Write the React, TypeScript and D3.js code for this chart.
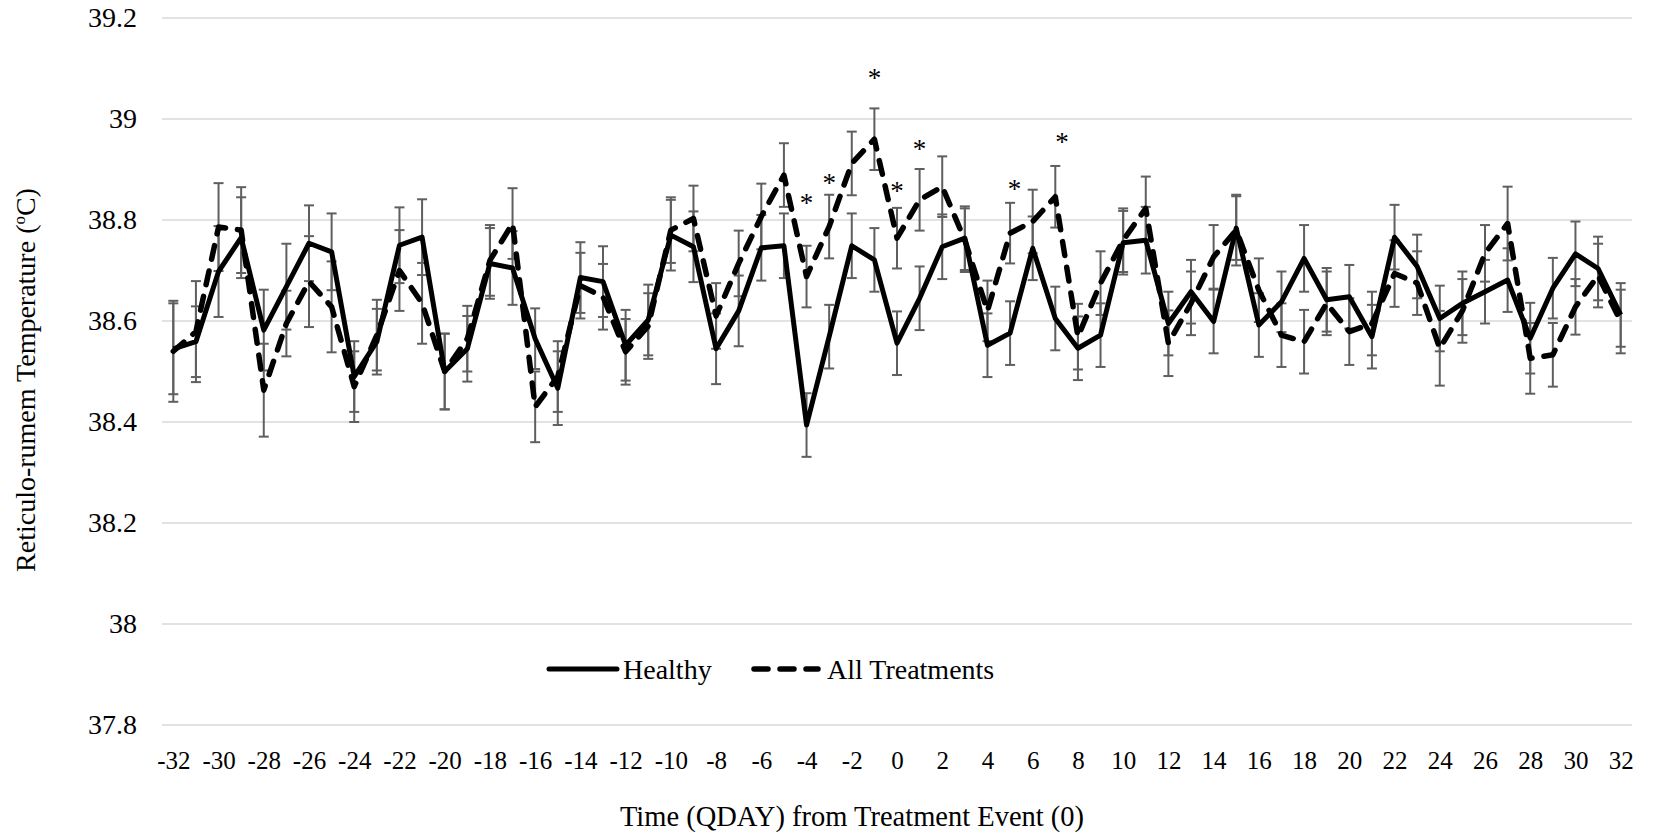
import React, { useEffect, useRef } from "react";
import * as d3 from "d3";

// QDAY relative to the treatment event
const qday = [
  -32, -31, -30, -29, -28, -27, -26, -25, -24, -23, -22, -21, -20, -19, -18, -17,
  -16, -15, -14, -13, -12, -11, -10, -9, -8, -7, -6, -5, -4, -3, -2, -1,
  0, 1, 2, 3, 4, 5, 6, 7, 8, 9, 10, 11, 12, 13, 14, 15,
  16, 17, 18, 19, 20, 21, 22, 23, 24, 25, 26, 27, 28, 29, 30, 31, 32,
];

const healthy = [
  38.545, 38.559, 38.698, 38.765, 38.582, 38.668, 38.754, 38.737, 38.49, 38.559, 38.75, 38.766, 38.5, 38.545, 38.714, 38.705,
  38.565, 38.467, 38.686, 38.678, 38.552, 38.602, 38.77, 38.747, 38.545, 38.62, 38.745, 38.749, 38.394, 38.569, 38.749, 38.721,
  38.556, 38.645, 38.747, 38.764, 38.552, 38.576, 38.744, 38.605, 38.546, 38.572, 38.755, 38.76, 38.595, 38.658, 38.599, 38.784,
  38.592, 38.638, 38.724, 38.642, 38.648, 38.569, 38.766, 38.708, 38.605, 38.635, 38.658, 38.681, 38.566, 38.665, 38.733, 38.704, 38.612,
];
const healthyErr = [
  0.09, 0.07, 0.09, 0.08, 0.08, 0.085, 0.075, 0.076, 0.07, 0.065, 0.075, 0.075, 0.075, 0.065, 0.07, 0.073,
  0.06, 0.073, 0.07, 0.07, 0.07, 0.07, 0.07, 0.07, 0.07, 0.07, 0.065, 0.064, 0.063, 0.063, 0.064, 0.063,
  0.063, 0.063, 0.064, 0.063, 0.063, 0.063, 0.063, 0.063, 0.063, 0.063, 0.063, 0.066, 0.063, 0.063, 0.063, 0.063,
  0.063, 0.06, 0.066, 0.063, 0.063, 0.063, 0.064, 0.063, 0.065, 0.063, 0.063, 0.063, 0.07, 0.06, 0.064, 0.063, 0.063,
];

const treated = [
  38.54, 38.579, 38.786, 38.78, 38.463, 38.595, 38.678, 38.628, 38.47, 38.572, 38.7, 38.635, 38.5, 38.565, 38.72, 38.793,
  38.43, 38.49, 38.67, 38.648, 38.539, 38.59, 38.78, 38.803, 38.61, 38.714, 38.807, 38.889, 38.688, 38.787, 38.912, 38.96,
  38.764, 38.84, 38.866, 38.76, 38.62, 38.774, 38.797, 38.846, 38.569, 38.675, 38.76, 38.823, 38.556, 38.635, 38.727, 38.78,
  38.661, 38.572, 38.559, 38.635, 38.579, 38.595, 38.694, 38.675, 38.546, 38.62, 38.734, 38.793, 38.526, 38.533, 38.628, 38.69, 38.599,
];
const treatedErr = [
  0.1, 0.1, 0.087, 0.085, 0.092, 0.065, 0.09, 0.09, 0.07, 0.07, 0.08, 0.08, 0.075, 0.065, 0.07, 0.07,
  0.07, 0.07, 0.065, 0.065, 0.065, 0.065, 0.065, 0.065, 0.065, 0.065, 0.065, 0.063, 0.061, 0.063, 0.063, 0.061,
  0.06, 0.061, 0.06, 0.063, 0.06, 0.06, 0.063, 0.061, 0.065, 0.063, 0.063, 0.063, 0.065, 0.063, 0.063, 0.07,
  0.063, 0.063, 0.063, 0.063, 0.066, 0.063, 0.066, 0.063, 0.074, 0.063, 0.056, 0.073, 0.07, 0.063, 0.055, 0.063, 0.063,
];

const xTicks = [-32, -30, -28, -26, -24, -22, -20, -18, -16, -14, -12, -10, -8, -6, -4, -2, 0, 2, 4, 6, 8, 10, 12, 14, 16, 18, 20, 22, 24, 26, 28, 30, 32];
const yTicks = [37.8, 38, 38.2, 38.4, 38.6, 38.8, 39, 39.2];

// significance markers (position of the asterisk)
const starDays = [-4, -3, -1, 0, 1, 5.2, 7.3];
const starTemps = [38.846, 38.885, 39.093, 38.869, 38.952, 38.873, 38.966];

const FONT = "'Liberation Serif', 'Times New Roman', serif";

function App() {
  const ref = useRef<SVGSVGElement>(null);

  useEffect(() => {
    const svg = d3.select(ref.current);
    svg.selectAll("*").remove();

    const x = d3.scaleLinear().domain([-32.5, 32.5]).range([162, 1632]);
    const y = d3.scaleLinear().domain([37.8, 39.2]).range([725, 18]);

    // gridlines
    svg.append("g")
      .selectAll("line")
      .data(yTicks)
      .enter()
      .append("line")
      .attr("x1", x(-32.5))
      .attr("x2", x(32.5))
      .attr("y1", (d) => y(d))
      .attr("y2", (d) => y(d))
      .attr("stroke", "#d9d9d9")
      .attr("stroke-width", 1.5);

    // y axis labels
    const yAxis = svg.append("g")
      .attr("transform", "translate(" + x(-32.5) + ",0)")
      .call(d3.axisLeft(y).tickValues(yTicks).tickSize(0).tickPadding(25).tickFormat((d) => String(d)));
    yAxis.select(".domain").remove();
    yAxis.selectAll("text").attr("font-family", FONT).attr("font-size", 28).attr("fill", "#000");

    // x axis labels (plain hyphen minus, like the original)
    const xAxis = svg.append("g")
      .attr("transform", "translate(0," + y(37.8) + ")")
      .call(d3.axisBottom(x).tickValues(xTicks).tickSize(0).tickPadding(26).tickFormat((d) => String(d)));
    xAxis.select(".domain").remove();
    xAxis.selectAll("text").attr("font-family", FONT).attr("font-size", 25).attr("fill", "#000");

    // error bars
    const drawErrors = (vals: number[], errs: number[]) => {
      const g = svg.append("g").attr("stroke", "#5f5f5f").attr("stroke-width", 2);
      vals.forEach((v, i) => {
        const cx = x(qday[i]);
        const top = y(v + errs[i]);
        const bot = y(v - errs[i]);
        g.append("line").attr("x1", cx).attr("x2", cx).attr("y1", top).attr("y2", bot);
        g.append("line").attr("x1", cx - 5).attr("x2", cx + 5).attr("y1", top).attr("y2", top);
        g.append("line").attr("x1", cx - 5).attr("x2", cx + 5).attr("y1", bot).attr("y2", bot);
      });
    };
    drawErrors(healthy, healthyErr);
    drawErrors(treated, treatedErr);

    const line = d3.line<number>()
      .x((d, i) => x(qday[i]))
      .y((d) => y(d));

    svg.append("path")
      .datum(healthy)
      .attr("d", line)
      .attr("fill", "none")
      .attr("stroke", "#000")
      .attr("stroke-width", 5)
      .attr("stroke-linejoin", "round");

    svg.append("path")
      .datum(treated)
      .attr("d", line)
      .attr("fill", "none")
      .attr("stroke", "#000")
      .attr("stroke-width", 5.5)
      .attr("stroke-linejoin", "round")
      .attr("stroke-linecap", "round")
      .attr("stroke-dasharray", "14 12");

    // asterisks
    svg.append("g")
      .selectAll("text")
      .data(starDays)
      .enter()
      .append("text")
      .attr("x", (d) => x(d))
      .attr("y", (d, i) => y(starTemps[i]))
      .attr("dy", "0.55em")
      .attr("text-anchor", "middle")
      .attr("font-family", FONT)
      .attr("font-size", 27)
      .text("*");

    // legend
    const legend = svg.append("g");
    legend.append("line")
      .attr("x1", 549).attr("x2", 617).attr("y1", 669).attr("y2", 669)
      .attr("stroke", "#000").attr("stroke-width", 5).attr("stroke-linecap", "round");
    legend.append("text")
      .attr("x", 623).attr("y", 679)
      .attr("font-family", FONT).attr("font-size", 28)
      .text("Healthy");
    legend.append("line")
      .attr("x1", 754).attr("x2", 818).attr("y1", 669).attr("y2", 669)
      .attr("stroke", "#000").attr("stroke-width", 5.5).attr("stroke-linecap", "round")
      .attr("stroke-dasharray", "14 12");
    legend.append("text")
      .attr("x", 827).attr("y", 679)
      .attr("font-family", FONT).attr("font-size", 28)
      .text("All Treatments");

    // axis titles
    svg.append("text")
      .attr("x", 852).attr("y", 826)
      .attr("text-anchor", "middle")
      .attr("font-family", FONT).attr("font-size", 28.5)
      .text("Time (QDAY) from Treatment Event (0)");

    const yTitle = svg.append("text")
      .attr("transform", "translate(35,380) rotate(-90)")
      .attr("text-anchor", "middle")
      .attr("font-family", FONT).attr("font-size", 28);
    yTitle.append("tspan").text("Reticulo-rumem Temperature (");
    yTitle.append("tspan").attr("font-size", 17).attr("dy", -10).text("o");
    yTitle.append("tspan").attr("dy", 10).text("C)");
  });

  return (
    <svg
      ref={ref}
      width={1653}
      height={835}
      style={{ position: "absolute", left: 0, top: 0, background: "#fff" }}
    />
  );
}

export default App;
